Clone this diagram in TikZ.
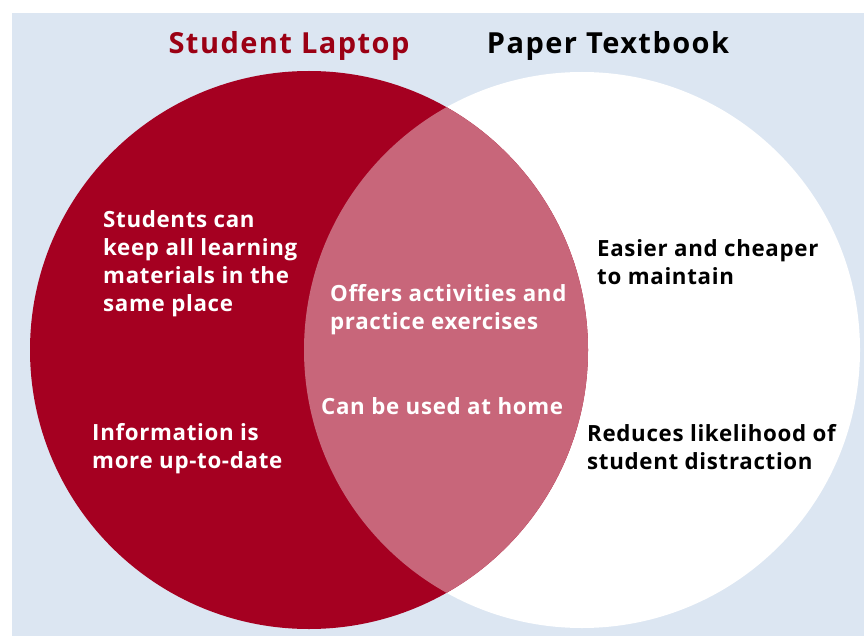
\documentclass[tikz,border=0pt]{standalone}
\usepackage{fontspec}
\setmainfont[LetterSpace=3]{Open Sans}
\newfontfamily\titlefont[LetterSpace=5]{Open Sans}
\definecolor{laptopred}{HTML}{A50021}
\definecolor{titlered}{HTML}{9B0014}
\definecolor{overlappink}{HTML}{C8667A}
\definecolor{paleblue}{HTML}{DCE6F2}

\begin{document}
\begin{tikzpicture}[x=1pt,y=-1pt]
            \tikzset{title/.style = {font=\titlefont\bfseries\fontsize{29}{34}\selectfont, inner sep=0pt}}
            \tikzset{item/.style = {font=\bfseries\fontsize{22.3}{28}\selectfont, align=left, anchor=west, inner sep=0pt}}
            \useasboundingbox (0,0) rectangle (864,636);
            \fill[paleblue] (12,13) rectangle (864,636);
            % circles
            \fill[white] (582,350) circle (278);
            \fill[laptopred] (309,350) circle (279);
            \begin{scope}
                \clip (582,350) circle (278);
                \fill[overlappink] (309,350) circle (279);
            \end{scope}
            % titles
            \node[title, text=titlered] (laptop) at (289,46) {Student Laptop};
            \node[title, text=black] (textbook) at (608,46) {Paper Textbook};
            % labels
            \node[item, text=white] (keep) at (103,264) {Students can\\keep all learning\\materials in the\\same place};
            \node[item, text=white] (info) at (92,449) {Information is\\more up-to-date};
            \node[item, text=white] (offers) at (330,310) {Offers activities and\\practice exercises};
            \node[item, text=white] (home) at (321,406) {Can be used at home};
            \node[item, text=black] (cheap) at (597,262) {Easier and cheaper\\to maintain};
            \node[item, text=black] (distract) at (587,447) {Reduces likelihood of\\student distraction};
        \end{tikzpicture}
\end{document}
